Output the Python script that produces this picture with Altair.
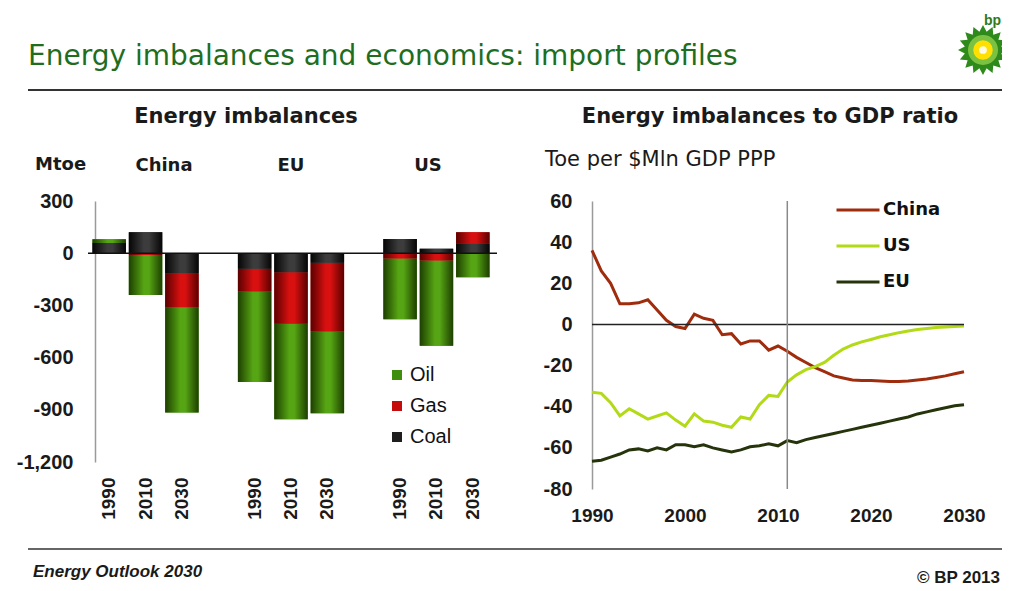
import math
import altair as alt
import pandas as pd

# ---------------- data: energy imbalances (Mtoe) ----------------
regions = ["China", "EU", "US"]
bar_years = ["1990", "2010", "2030"]
oil = [22, -230, -605, -520, -550, -470, -350, -490, -138]
gas = [0, -10, -195, -130, -295, -395, -30, -42, 67]
coal = [58, 120, -115, -90, -110, -55, 82, 25, 54]
fuels = ["Oil", "Gas", "Coal"]
fuel_colors = ["#3f8e0e", "#c40c0c", "#1e1e1e"]
left_ticks = [300, 0, -300, -600, -900, -1200]

# ---------------- data: energy imbalances to GDP ratio ----------------
line_years = list(range(1990, 2031))
china = [36, 26, 20, 10, 10, 10.5, 12, 7, 2, -1, -2,
         5, 3, 2, -5, -4.5, -9.5, -8, -8, -12.5, -10.5,
         -13, -16, -18.5, -21, -23, -25, -26, -27, -27.3, -27.3,
         -27.5, -27.8, -27.8, -27.5, -27, -26.5, -25.8, -25, -24, -23]
us = [-33, -33.5, -38, -44.5, -41, -43.5, -46, -44.5, -43, -46.5, -49.5,
      -43.5, -47, -47.5, -49, -50, -45, -46, -39, -34.5, -35,
      -28, -24.5, -22, -20.5, -18.5, -15, -12, -10, -8.5, -7.3,
      -6, -5, -4, -3.2, -2.5, -2, -1.5, -1.2, -1, -0.8]
eu = [-66.5, -66, -64.5, -63, -61, -60.5, -61.5, -60, -61, -58.5, -58.5,
      -59.5, -58.5, -60, -61, -62, -61, -59.5, -59, -58, -59,
      -56.5, -57.5, -56, -55, -54, -53, -52, -51, -50, -49,
      -48, -47, -46, -45, -43.5, -42.5, -41.5, -40.5, -39.5, -39]
series = ["China", "US", "EU"]
series_colors = ["#a02c0e", "#b2da16", "#26340c"]
right_ticks = [60, 40, 20, 0, -20, -40, -60, -80]
x_ticks = [1990, 2000, 2010, 2020, 2030]
history_end = 2011

# ---------------- tables ----------------
rows = []
for i, r in enumerate(regions):
    for j, yv in enumerate(bar_years):
        k = i * 3 + j
        for f, vals in zip(fuels, [oil, gas, coal]):
            rows.append({"key": f"{r}|{yv}", "fuel": f, "value": vals[k]})
bars_df = pd.DataFrame(rows)

x_domain = []
for i, r in enumerate(regions):
    x_domain += [f"{r}|{yv}" for yv in bar_years]
    if i < len(regions) - 1:
        x_domain.append(f"gap{i}")

lines_df = pd.DataFrame({
    "year": line_years * 3,
    "series": ["China"] * 41 + ["US"] * 41 + ["EU"] * 41,
    "value": china + us + eu,
})

W, H = 994, 578
FONT_NUM = "Liberation Sans"
FONT_HEAD = "DejaVu Sans"

# ---------------- left panel ----------------
xs_l = alt.Scale(domain=x_domain, range=[83, 483], paddingInner=0.08, paddingOuter=0.04)
ys_l = alt.Scale(domain=[-1200, 300], range=[454, 193], nice=False, zero=False)
ax_lx = alt.Axis(orient="bottom", offset=454 - H, labelAngle=270,
                 labelExpr="indexof(datum.value, '|') > 0 ? slice(datum.value, indexof(datum.value, '|') + 1) : ''",
                 labelFont=FONT_NUM, labelFontWeight="bold", labelFontSize=19, labelColor="#1a1a1a",
                 labelPadding=15, ticks=False, domain=False, title=None)
ax_ly = alt.Axis(orient="left", offset=-87, values=left_ticks,
                 labelExpr="datum.value < 0 ? '-' + format(-datum.value, ',') : format(datum.value, ',')",
                 labelFont=FONT_NUM, labelFontWeight="bold", labelFontSize=20, labelColor="#1a1a1a",
                 labelPadding=22, ticks=False, domainColor="#9a9a9a", domainWidth=1.5, title=None)

bar_base = alt.Chart(bars_df).transform_calculate(
    ord="datum.fuel == 'Coal' ? 0 : (datum.fuel == 'Gas' ? 1 : 2)"
).transform_stack(
    stack="value", groupby=["key"], as_=["y0", "y1"], sort=[alt.SortField("ord", order="ascending")]
).encode(
    x=alt.X("key:N", scale=xs_l, axis=ax_lx),
    y=alt.Y("y0:Q", scale=ys_l, axis=ax_ly),
    y2="y1:Q",
)


def grad(dark, light):
    return alt.Gradient(
        gradient="linear",
        stops=[alt.GradientStop(color=dark, offset=0),
               alt.GradientStop(color=light, offset=0.45),
               alt.GradientStop(color=light, offset=0.6),
               alt.GradientStop(color=dark, offset=1)],
        x1=0, x2=1, y1=0, y2=0,
    )


bars_solid = bar_base.mark_bar().encode(
    fill=alt.Fill("fuel:N", scale=alt.Scale(domain=fuels, range=fuel_colors),
                  legend=alt.Legend(orient="none", legendX=379, legendY=357, title=None,
                                    symbolType="square", symbolSize=100, symbolStrokeWidth=0,
                                    labelFont=FONT_NUM, labelFontSize=20, labelColor="#111",
                                    rowPadding=11, labelOffset=3))
)
shades = {"Oil": ("#1d3f00", "#56a514"), "Gas": ("#5a0000", "#d81010"), "Coal": ("#050505", "#3c3c3c")}
bar_layers = [bars_solid]
for f in fuels:
    d, l = shades[f]
    bar_layers.append(bar_base.transform_filter(alt.datum.fuel == f).mark_bar(fill=grad(d, l)))

zero_left = alt.Chart(pd.DataFrame({"z": [0]})).mark_rule(color="#111", strokeWidth=1.5).encode(
    y=alt.Y("z:Q", scale=ys_l, axis=ax_ly), x=alt.value(80), x2=alt.value(489))

left = alt.layer(*bar_layers, zero_left)

# ---------------- right panel ----------------
xs_r = alt.Scale(domain=[1990, 2030], range=[584, 956], nice=False, zero=False)
ys_r = alt.Scale(domain=[-80, 60], range=[481, 193], nice=False, zero=False)
ax_rx = alt.Axis(orient="bottom", offset=481 - H, values=x_ticks, format="d", labelFlush=False,
                 labelFont=FONT_NUM, labelFontWeight="bold", labelFontSize=19, labelColor="#1a1a1a",
                 labelPadding=17, ticks=False, domain=False, title=None)
ax_ry = alt.Axis(orient="left", offset=-584, values=right_ticks,
                 labelExpr="datum.value < 0 ? '-' + format(-datum.value, 'd') : format(datum.value, 'd')",
                 labelFont=FONT_NUM, labelFontWeight="bold", labelFontSize=20, labelColor="#1a1a1a",
                 labelPadding=20, ticks=False, domainColor="#9a9a9a", domainWidth=1.5, title=None)

lines = alt.Chart(lines_df).mark_line(strokeWidth=3).encode(
    x=alt.X("year:Q", scale=xs_r, axis=ax_rx),
    y=alt.Y("value:Q", scale=ys_r, axis=ax_ry),
    stroke=alt.Stroke("series:N", scale=alt.Scale(domain=series, range=series_colors),
                      legend=alt.Legend(orient="none", legendX=827, legendY=179, title=None,
                                        symbolType="stroke", symbolSize=1849, symbolStrokeWidth=3,
                                        labelFont=FONT_HEAD, labelFontWeight="bold", labelFontSize=18,
                                        labelColor="#111", rowPadding=4, labelOffset=2)),
)
zero_right = alt.Chart(pd.DataFrame({"a": [1990], "b": [2030], "z": [0]})).mark_rule(
    color="#222", strokeWidth=1.5).encode(
    x=alt.X("a:Q", scale=xs_r, axis=ax_rx), x2="b:Q", y=alt.Y("z:Q", scale=ys_r, axis=ax_ry))
vline = alt.Chart(pd.DataFrame({"a": [history_end], "lo": [-80], "hi": [60]})).mark_rule(
    color="#8a8a8a", strokeWidth=1.5).encode(
    x=alt.X("a:Q", scale=xs_r, axis=ax_rx), y=alt.Y("hi:Q", scale=ys_r, axis=ax_ry), y2="lo:Q")

right = alt.layer(lines, zero_right, vline)


# ---------------- annotations ----------------
def label(text, x, y, size, font, weight="normal", color="#1a1a1a", align="left", style="normal",
          baseline="middle"):
    return alt.Chart(pd.DataFrame({"t": [text]})).mark_text(
        align=align, baseline=baseline, fontSize=size, font=font, fontWeight=weight,
        color=color, fontStyle=style).encode(x=alt.value(x), y=alt.value(y), text="t:N")


def hline(y, x1, x2, color="#333", width=2):
    return alt.Chart(pd.DataFrame({"t": [0]})).mark_rule(color=color, strokeWidth=width).encode(
        x=alt.value(x1), x2=alt.value(x2), y=alt.value(y))


annots = [
    label("Energy imbalances and economics: import profiles", 20, 57, 28, FONT_HEAD,
          color="#1f6e1f", baseline="alphabetic"),
    hline(82, 20, W),
    hline(541, 20, W, color="#333", width=1.5),
    label("Energy imbalances", 238, 109, 21, FONT_HEAD, weight="bold", align="center"),
    label("Energy imbalances to GDP ratio", 762, 109, 21, FONT_HEAD, weight="bold", align="center"),
    label("Mtoe", 27, 157, 18, FONT_HEAD, weight="bold"),
    label("China", 156, 158, 18, FONT_HEAD, weight="bold", align="center"),
    label("EU", 283, 158, 18, FONT_HEAD, weight="bold", align="center"),
    label("US", 420, 158, 18, FONT_HEAD, weight="bold", align="center"),
    label("Toe per $Mln GDP PPP", 537, 152, 21, FONT_HEAD),
    label("Energy Outlook 2030", 25, 569, 17, FONT_NUM, weight="bold", style="italic",
          baseline="alphabetic"),
    label("\u00a9 BP 2013", 992, 575, 17, FONT_NUM, weight="bold", align="right",
          baseline="alphabetic"),
]

# bp logo (decoration)
pts = []
for k in range(32):
    a = math.pi * k / 16
    rr = 1.0 if k % 2 == 0 else 0.74
    pts.append(f"{rr * math.cos(a):.3f},{rr * math.sin(a):.3f}")
star = "M" + " L".join(pts) + " Z"
logo_df = pd.DataFrame({"t": [0]})
logo = [
    alt.Chart(logo_df).mark_point(shape=star, filled=True, size=2500, color="#2f8a1c", opacity=1).encode(
        x=alt.value(975), y=alt.value(42)),
    alt.Chart(logo_df).mark_point(shape="circle", filled=True, size=900, color="#7cc242", opacity=1).encode(
        x=alt.value(975), y=alt.value(42)),
    alt.Chart(logo_df).mark_point(shape="circle", filled=True, size=380, color="#ffe000", opacity=1).encode(
        x=alt.value(975), y=alt.value(42)),
    alt.Chart(logo_df).mark_point(shape="circle", filled=True, size=60, color="#fffbe0", opacity=1).encode(
        x=alt.value(975), y=alt.value(42)),
    label("bp", 993, 13, 14, FONT_NUM, weight="bold", color="#2f7a1c", align="right"),
]

chart = alt.layer(left, right, *annots, *logo).resolve_scale(
    x="independent", y="independent"
).properties(
    width=W, height=H, padding=0, background="white",
    autosize=alt.AutoSizeParams(type="none"),
).configure_view(strokeWidth=0).configure_axis(grid=False)

chart.save("out.html", embed_options={"renderer": "svg", "actions": False})
